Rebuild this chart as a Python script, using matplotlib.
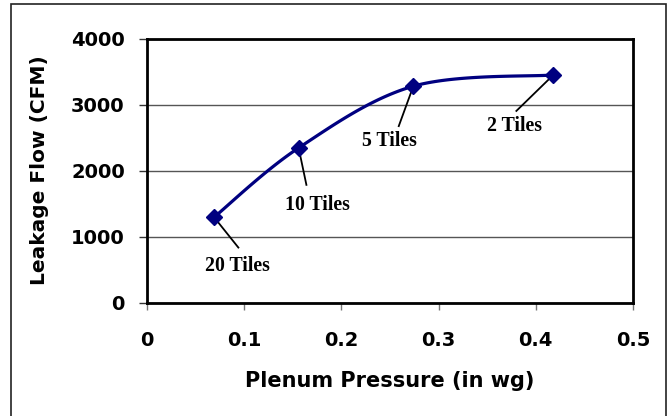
import numpy as np
import matplotlib
matplotlib.use("Agg")
import matplotlib.pyplot as plt
from matplotlib.patches import Rectangle

# Data
pressure = [0.069, 0.156, 0.274, 0.418]
flow = [1300, 2350, 3285, 3455]
labels = ["20 Tiles", "10 Tiles", "5 Tiles", "2 Tiles"]
# label text positions (data coords)
label_x = [0.093, 0.175, 0.249, 0.378]
label_y = [560, 1480, 2450, 2675]
# line start (near text) positions
line_x = [0.094, 0.164, 0.259, 0.380]
line_y = [840, 1790, 2680, 2910]

xticks = [0, 0.1, 0.2, 0.3, 0.4, 0.5]
yticks = [0, 1000, 2000, 3000, 4000]

W, H = 670, 416
fig = plt.figure(figsize=(W / 100, H / 100), dpi=100)
fig.patches.append(Rectangle((11 / W, -0.05), (666 - 11) / W, 1.05 - 4 / H,
                             transform=fig.transFigure, fill=False,
                             edgecolor="#222222", linewidth=1.2))

ax = fig.add_axes([147 / W, 1 - 303 / H, (633 - 147) / W, (303 - 39) / H])
ax.set_xlim(0, 0.5)
ax.set_ylim(0, 4000)

# smooth curve (Excel-like Catmull-Rom Bezier) in screen-proportional space
sx = 486 / 0.5
sy = 264 / 4000
P = np.column_stack([np.array(pressure) * sx, np.array(flow) * sy])
pts = []
n = len(P)
t = np.linspace(0, 1, 40)[:, None]
for i in range(n - 1):
    p0 = P[i - 1] if i > 0 else P[i]
    p1 = P[i]
    p2 = P[i + 1]
    p3 = P[i + 2] if i + 2 < n else P[i + 1]
    c1 = p1 + (p2 - p0) / 6
    c2 = p2 - (p3 - p1) / 6
    seg = ((1 - t) ** 3) * p1 + 3 * ((1 - t) ** 2) * t * c1 + 3 * (1 - t) * t ** 2 * c2 + t ** 3 * p2
    pts.append(seg)
curve = np.vstack(pts)
ax.plot(curve[:, 0] / sx, curve[:, 1] / sy, color="#000080", linewidth=2.3,
        solid_capstyle="round", zorder=3)
ax.plot(pressure, flow, linestyle="none", marker="D", markersize=8,
        color="#000080", markeredgecolor="#000080", zorder=4)

for px, py, lx, ly, tx, ty, lab in zip(pressure, flow, line_x, line_y, label_x, label_y, labels):
    ax.plot([lx, px], [ly, py], color="black", linewidth=1.3, zorder=2.5)
    ax.text(tx, ty, lab, ha="center", va="center", fontsize=14.3,
            fontweight="bold", family="Liberation Serif", color="black")

ax.set_yticks([1000, 2000, 3000])
ax.yaxis.grid(True, color="#555555", linewidth=1.0)
ax.set_axisbelow(True)
ax.set_yticks(yticks)
ax.set_xticks(xticks)
ax.set_xticklabels(["0", "0.1", "0.2", "0.3", "0.4", "0.5"])
ax.set_yticklabels([str(v) for v in yticks])
for lab in ax.get_xticklabels() + ax.get_yticklabels():
    lab.set_fontweight("bold")
    lab.set_fontsize(14)
    lab.set_family("DejaVu Sans")
ax.tick_params(axis="y", direction="out", length=6, width=1.0, pad=10, color="#333333")
ax.tick_params(axis="x", direction="out", length=5, width=1.0, pad=15, color="#777777")
for s in ax.spines.values():
    s.set_linewidth(2.0)
    s.set_color("black")

fig.text(390 / W, 1 - 381 / H, "Plenum Pressure (in wg)", ha="center", va="center",
         fontsize=15, fontweight="bold", family="DejaVu Sans")
fig.text(40 / W, 1 - 170 / H, "Leakage Flow (CFM)", ha="center", va="center",
         rotation=90, fontsize=14.5, fontweight="bold", family="DejaVu Sans")

fig.savefig("out.png", dpi=100)
